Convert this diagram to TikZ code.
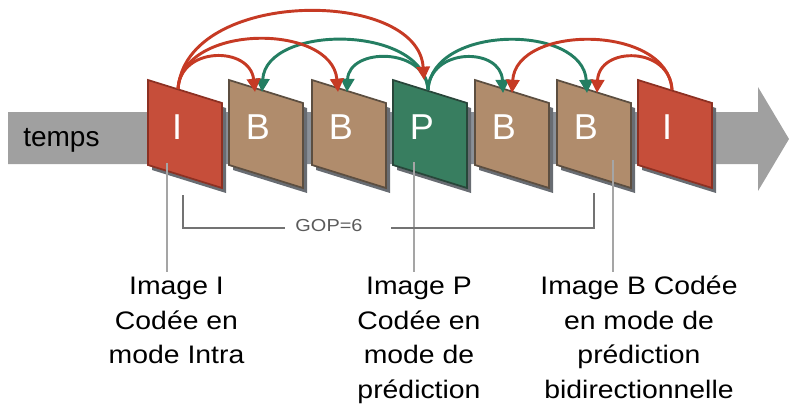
\documentclass[tikz,border=0pt]{standalone}
\usepackage{fontspec}
\setmainfont{Liberation Sans}
\usetikzlibrary{arrows.meta}
\definecolor{fred}{RGB}{198,78,58}
\definecolor{fredb}{RGB}{140,48,34}
\definecolor{ftan}{RGB}{176,140,108}
\definecolor{ftanb}{RGB}{92,78,64}
\definecolor{fgreen}{RGB}{56,126,96}
\definecolor{fgreenb}{RGB}{40,70,58}
\definecolor{ared}{RGB}{198,58,36}
\definecolor{agreen}{RGB}{36,126,98}
\definecolor{barc}{RGB}{160,160,160}
\definecolor{bardark}{RGB}{138,144,152}
\definecolor{shad}{RGB}{104,108,114}
\definecolor{ptr}{RGB}{165,165,165}
\definecolor{brk}{RGB}{115,115,115}
\definecolor{gopc}{RGB}{90,90,90}
\newcommand\gopimg[5]{%
  \fill[shad] (#2+4,85) -- (#2+78,108) -- (#2+78,193) -- (#2+4,170) -- cycle;
  \filldraw[fill=#3,draw=#4,line width=1.3pt] (#2,80) -- (#2+74,103) -- (#2+74,188) -- (#2,165) -- cycle;
  \node[letter] (#1) at (#2+29,139) {#5};
}
\newcommand\stretchlines[2]{\scalebox{#1}[1]{\begin{tabular}{@{}c@{}}#2\end{tabular}}}
\begin{document}
\begin{tikzpicture}[x=0.75pt,y=-0.75pt,
  letter/.style={anchor=base,text=white,inner sep=0pt,font=\fontsize{27}{30}\selectfont},
  redarc/.style={draw=ared,line width=2.2pt,-{Triangle[length=10pt,width=10pt]}},
  greenarc/.style={draw=agreen,line width=2.2pt,-{Triangle[length=10pt,width=10pt]}},
  pointer/.style={draw=ptr,line width=1.4pt},
  bracket/.style={draw=brk,line width=1.4pt},
  lbl/.style={anchor=north,inner sep=0pt,font=\fontsize{19}{26}\selectfont},
  gop/.style={inner sep=0pt,text=gopc,font=\fontsize{13}{15}\selectfont}]
\useasboundingbox (0,0) rectangle (790,404);
% time arrow
\fill[barc] (8,112) -- (758,112) -- (758,87) -- (789,139) -- (758,191) -- (758,164) -- (8,164) -- cycle;
\fill[bardark] (148,112) rectangle (713,164);
\node[anchor=base west,inner sep=0pt,font=\fontsize{21}{24}\selectfont] (temps) at (23,146) {temps};
% frames
\gopimg{I1}{148}{fred}{fredb}{I}
\gopimg{B1}{229}{ftan}{ftanb}{B}
\gopimg{B2}{312}{ftan}{ftanb}{B}
\gopimg{P}{393}{fgreen}{fgreenb}{P}
\gopimg{B3}{475}{ftan}{ftanb}{B}
\gopimg{B4}{557}{ftan}{ftanb}{B}
\gopimg{I2}{638}{fred}{fredb}{I}
% arc anchors
\coordinate (I1s) at (178,89);
\coordinate (B1r) at (255,92);
\coordinate (B1g) at (262,92);
\coordinate (B2r) at (338,92);
\coordinate (B2g) at (347,92);
\coordinate (Pr) at (424,80);
\coordinate (Ps) at (428,90);
\coordinate (B3g) at (503,93);
\coordinate (B3r) at (512,93);
\coordinate (B4g) at (587,93);
\coordinate (B4r) at (597,93);
\coordinate (I2s) at (672,90);
% green arcs
\draw[greenarc] (Ps) .. controls (426,47) and (349,47) .. (B2g);
\draw[greenarc] (Ps) .. controls (424,24) and (266,24) .. (B1g);
\draw[greenarc] (Ps) .. controls (430,47) and (501,47) .. (B3g);
\draw[greenarc] (Ps) .. controls (432,24) and (583,24) .. (B4g);
% red arcs
\draw[redarc] (I1s) .. controls (180,46) and (250,46) .. (B1r);
\draw[redarc] (I1s) .. controls (182,23) and (332,23) .. (B2r);
\draw[redarc] (I1s) .. controls (186,-12) and (418,-12) .. (Pr);
\draw[redarc] (I2s) .. controls (670,46) and (599,46) .. (B4r);
\draw[redarc] (I2s) .. controls (668,24) and (516,24) .. (B3r);
% pointer lines
\coordinate (pI) at (167,163);
\coordinate (pIe) at (167,272);
\coordinate (pP) at (414,162);
\coordinate (pPe) at (414,272);
\coordinate (pB) at (613,160);
\coordinate (pBe) at (613,272);
\draw[pointer] (pI) -- (pIe);
\draw[pointer] (pP) -- (pPe);
\draw[pointer] (pB) -- (pBe);
% GOP bracket
\node[gop] (gop) at (329,226) {\scalebox{1.15}[1]{GOP=6}};
\coordinate (gl) at (183,195);
\coordinate (gla) at (285,228);
\coordinate (grb) at (391,228);
\coordinate (gr) at (594,193);
\draw[bracket] (gl) |- (gla);
\draw[bracket] (grb) -| (gr);
% labels
\node[lbl] (lI) at (176.5,270) {\stretchlines{1.12}{Image I\\Codée en\\mode Intra}};
\node[lbl] (lP) at (419,270) {\stretchlines{1.12}{Image P\\Codée en\\mode de\\prédiction}};
\node[lbl] (lB) at (639,270) {\stretchlines{1.12}{Image B Codée\\en mode de\\prédiction\\bidirectionnelle}};
\end{tikzpicture}
\end{document}
